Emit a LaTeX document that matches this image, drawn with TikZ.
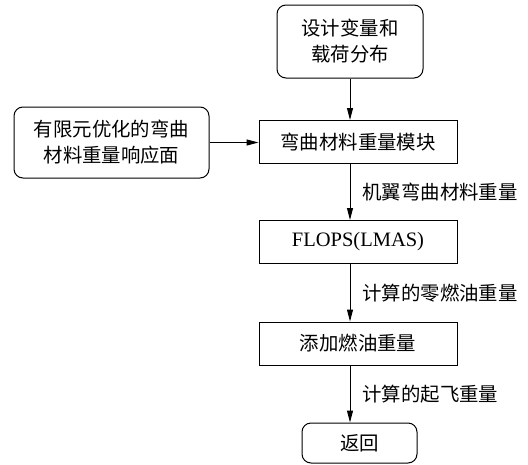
\documentclass[tikz,border=0pt]{standalone}
\usepackage{fontspec}
\setmainfont{Liberation Serif}
\newfontfamily\cjk{Noto Sans CJK SC}
\usetikzlibrary{arrows.meta}
\begin{document}
\begin{tikzpicture}[x=1pt,y=-1pt,
  box/.style={draw, line width=1pt, minimum width=198pt, minimum height=43pt, inner sep=0pt, font=\cjk\fontsize{19.4}{26}\selectfont, align=center},
  rbox/.style={box, rounded corners=9pt},
  lbl/.style={anchor=west, inner sep=0pt, xshift=12pt, font=\cjk\fontsize{19.4}{26}\selectfont},
  arr/.style={-{Triangle[length=12pt,width=6pt]}, line width=1pt}]
\useasboundingbox (0,0) rectangle (528,464);
\node[rbox, minimum width=146pt, minimum height=73pt] (top) at (350,41.5) {设计变量和\\载荷分布};
\node[box] (mod) at (358,142) {弯曲材料重量模块};
\node[rbox, minimum width=195pt, minimum height=71pt] (left) at (111.5,142.5) {有限元优化的弯曲\\材料重量响应面};
\node[box, font=\fontsize{20.5}{22}\selectfont] (flops) at (358,242) {FLOPS(LMAS)};
\node[box] (fuel) at (358,343.5) {添加燃油重量};
\node[rbox, minimum width=115pt, minimum height=40pt] (ret) at (359.5,443) {返回};
\draw[arr] (top.south) -- (top.south |- mod.north);
\draw[arr] (left.east) -- (left.east -| mod.west);
\draw[arr] (mod.south -| top.south) -- (flops.north -| top.south) node[midway,lbl] {机翼弯曲材料重量};
\draw[arr] (flops.south -| top.south) -- (fuel.north -| top.south) node[midway,lbl] {计算的零燃油重量};
\draw[arr] (fuel.south -| top.south) -- (ret.north -| top.south) node[midway,lbl] {计算的起飞重量};
\end{tikzpicture}
\end{document}
